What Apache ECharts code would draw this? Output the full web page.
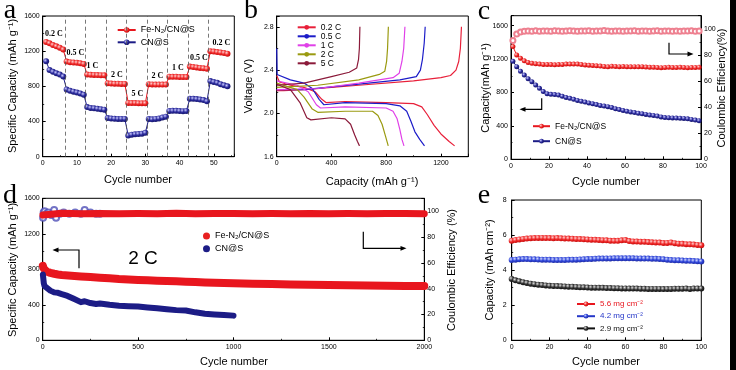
<!DOCTYPE html>
<html><head><meta charset="utf-8">
<script src="https://cdn.jsdelivr.net/npm/echarts@6/dist/echarts.min.js"></script>
<style>html,body{margin:0;padding:0;background:#fff}#c{width:736px;height:370px}</style>
</head><body><div id="c"></div>
<script>
// ---------- Panel a: rate capability ----------
const cyclesA = [1,2,3,4,5,6,7,8,9,10,11,12,13,14,15,16,17,18,19,20,21,22,23,24,25,26,27,28,29,30,31,32,33,34,35,36,37,38,39,40,41,42,43,44,45,46,47,48,49,50,51,52,53,54];
const redA = [1305,1290,1270,1255,1240,1218, 1082,1075,1070,1068,1062,1055, 935,932,930,928,927,925, 835,832,830,830,828,828, 612,610,610,608,608,607, 825,822,820,820,820,820, 910,908,908,906,906,905, 1025,1020,1015,1010,1005,1000, 1200,1195,1190,1185,1180,1172];
const blueA = [1085,985,965,950,935,912, 765,750,740,730,720,705, 565,555,550,545,540,535, 440,435,432,430,430,430, 240,250,255,258,262,272, 430,425,430,435,445,455, 520,522,522,520,518,520, 660,658,655,650,645,630, 860,850,840,825,812,800];
const rateBoundaries = [6.5,12.5,18.5,24.5,30.5,36.5,42.5,48.5];
const rateLabelsA = ['0.2 C','0.5 C','1 C','2 C','5 C','2 C','1 C','0.5 C','0.2 C'];

// ---------- Panel b: charge/discharge profiles ----------
const ratesB = ['0.2 C','0.5 C','1 C','2 C','5 C'];
const dis02 = [[0,2.35],[20,2.29],[100,2.26],[200,2.24],[280,2.2],[330,2.13],[360,2.10],[500,2.11],[800,2.10],[1000,2.09],[1060,2.06],[1100,1.99],[1150,1.89],[1200,1.81],[1260,1.74],[1300,1.70]];
const chg02 = [[0,2.21],[50,2.21],[200,2.22],[600,2.26],[1000,2.30],[1200,2.33],[1270,2.35],[1310,2.40],[1330,2.48],[1342,2.6],[1350,2.8]];
const dis05 = [[0,2.6],[3,2.36],[100,2.31],[200,2.28],[260,2.23],[310,2.13],[345,2.08],[500,2.10],[800,2.09],[900,2.07],[950,2.02],[980,1.93],[1010,1.83],[1045,1.76],[1080,1.70]];
const chg05 = [[0,2.22],[200,2.22],[600,2.27],[900,2.31],[1020,2.34],[1050,2.40],[1065,2.5],[1078,2.65],[1085,2.8]];
const dis1 = [[0,2.30],[150,2.26],[230,2.2],[290,2.08],[320,2.05],[500,2.06],[800,2.05],[850,2.02],[880,1.95],[900,1.85],[915,1.76],[930,1.70]];
const chg1 = [[0,2.22],[300,2.23],[600,2.28],[850,2.33],[895,2.37],[915,2.48],[928,2.6],[937,2.8]];
const dis2 = [[0,2.28],[150,2.22],[200,2.15],[260,2.04],[300,2.01],[500,2.02],[700,2.02],[740,1.98],[770,1.9],[795,1.79],[815,1.70]];
const chg2 = [[0,2.24],[300,2.26],[600,2.31],[750,2.36],[790,2.39],[803,2.48],[810,2.6],[816,2.8]];
const dis5 = [[0,2.27],[100,2.22],[170,2.10],[220,1.96],[250,1.94],[400,1.96],[500,1.95],[540,1.90],[570,1.80],[590,1.74],[605,1.70]];
const chg5 = [[0,2.26],[200,2.28],[400,2.34],[530,2.38],[585,2.42],[598,2.5],[604,2.6],[608,2.8]];

// ---------- Panel c: cycling at 0.2 C ----------
const cyclesC = [1,3,5,7,9,11,13,15,17,19,21,23,25,27,29,31,33,35,37,39,41,43,45,47,49,51,53,55,57,59,61,63,65,67,69,71,73,75,77,79,81,83,85,87,89,91,93,95,97,99];
const redC = [1350,1250,1210,1180,1160,1150,1145,1140,1136,1135, 1135,1132,1135,1136,1140,1140,1140,1140,1135,1130, 1126,1124,1120,1117,1112,1108,1115,1112,1110,1112, 1110,1108,1110,1108,1110,1105,1103,1102,1100,1098, 1100,1102,1100,1100,1102,1100,1098,1100,1100,1102];
const blueC = [1175,1110,1055,1010,965,930,890,850,812,785, 778,775,770,755,740,730,718,705,695,685, 675,665,655,645,638,630,620,605,595,585, 575,568,560,552,545,538,530,525,518,508, 500,498,496,494,492,490,485,478,470,462];
const ceC = [91,96,97.5,98,98.2,98,98.4,98.1,98.3,98.2, 98,98.4,98.2,98.1,98.3,98.5,98.2,98,98.3,98.2, 98.4,98.1,98.2,98.3,98.6,98.2,98,98.3,98.2,98.1, 98.3,98.2,98.4,98.1,98.2,98.3,98,98.2,98.4,98.1, 98.2,98.3,98.1,98.2,98,98.3,98.2,98.4,98.1,98.2];

// ---------- Panel d: long cycling at 2 C ----------
const cyclesDRed = [1,5,10,20,40,60,80,100,150,200,250,300,350,400,450,500,550,600,650,700,750,800,850,900,950,1000,1100,1200,1300,1400,1500,1600,1700,1800,1900,2000];
const redD = [840,810,790,775,760,750,742,735,728,720,712,705,698,690,685,680,676,672,668,664,660,656,652,648,645,642,638,633,630,627,622,620,618,615,613,612];
const cyclesDBlue = [1,3,6,10,20,40,60,80,100,130,160,200,220,250,280,300,350,400,450,500,550,600,650,700,750,800,850,900,950,1000];
const blueD = [740,700,640,610,590,560,540,535,520,500,470,430,440,420,410,415,400,390,385,380,370,360,350,340,335,315,300,292,285,278];
const cyclesDCE = [1,100,200,300,400,500,600,700,800,900,1000,1100,1200,1300,1400,1500,1600,1700,1800,1900,2000];
const ceDRed = [97,98.5,98,98.3,98.1,98.2,98,98.4,98.1,98.2,98.3,98,98.2,98.1,98.3,98,98.2,98.1,98.3,98.2,98];
const cyclesDCEBlue = [2,5,10,20,30,45,60,70,90,110,140,170,200,220,250,280,300];
const ceDBlue = [95,99,100,98,99,97,101,95,98,99,98,99,98,101,99,98,98];

// ---------- Panel e: areal capacity ----------
const cyclesE = [0,2,4,6,8,10,12,14,16,18,20,22,24,26,28,30,32,34,36,38,40,42,44,46,48,50,52,54,56,58,60,62,64,66,68,70,72,74,76,78,80,82,84,86,88,90,92,94,96,98,100];
const loadingsE = ['5.6 mg cm⁻²','4.2 mg cm⁻²','2.9 mg cm⁻²'];
const redE = [5.68,5.72,5.75,5.78,5.80,5.82,5.83,5.84,5.84,5.83,5.83,5.82,5.83,5.82,5.81,5.80,5.79,5.78,5.77,5.76,5.75,5.74,5.73,5.72,5.71,5.70,5.68,5.67,5.67,5.70,5.72,5.66,5.64,5.63,5.62,5.62,5.60,5.59,5.58,5.57,5.55,5.55,5.58,5.54,5.51,5.50,5.48,5.47,5.46,5.44,5.42];
const blueE = [4.58,4.60,4.62,4.63,4.63,4.62,4.62,4.61,4.60,4.60, 4.59,4.58,4.58,4.58,4.58,4.59,4.59,4.60,4.61,4.62, 4.63,4.64,4.65,4.66,4.66,4.67,4.67,4.68,4.68,4.68, 4.68,4.68,4.68,4.67,4.67,4.66,4.66,4.65,4.65,4.64, 4.62,4.60,4.58,4.57,4.56,4.55,4.54,4.53,4.52,4.51, 4.50];
const blackE = [3.50,3.42,3.36,3.31,3.27,3.23,3.20,3.17,3.15,3.13, 3.11,3.10,3.09,3.08,3.07,3.06,3.05,3.04,3.03,3.02, 3.01,3.00,3.00,2.99,2.99,2.98,2.98,2.97,2.97,2.96, 2.96,2.95,2.95,2.95,2.94,2.94,2.93,2.93,2.93,2.93, 2.92,2.93,2.93,2.94,2.94,2.94,2.95,2.93,2.95,2.95, 2.95];

// ---------- helpers ----------
const FONT = 'Arial, "Liberation Sans", sans-serif';
const SERIF = '"Times New Roman", "Liberation Serif", serif';
const pairs = (xs, ys) => xs.map((x, i) => [x, ys[i]]);
function sphere(hi, mid, lo) {
  return {type:'radial', x:0.35, y:0.35, r:0.8, colorStops:[{offset:0,color:hi},{offset:0.45,color:mid},{offset:1,color:lo}]};
}
const RED = '#e8161e', NAVY = '#1c1c86', BLUE = '#2436c8';
const RED_SPH = sphere('#ffd0d0', '#f02a2a', '#b80000');
const NAVY_SPH = sphere('#c8c8ff', '#2a2a9c', '#0e0e58');
const BLUE_SPH = sphere('#d0d8ff', '#3046da', '#1a2390');
const BLACK_SPH = sphere('#e0e0e0', '#333', '#000');

function ax(gridIndex, min, max, interval, o = {}) {
  return {
    type:'value', gridIndex, min, max, interval, position:o.position,
    axisLine:{show:true, onZero:false, lineStyle:{color:'#000', width:1}},
    axisTick:{show:true, inside:true, length:3, lineStyle:{color:'#000', width:1}},
    minorTick:{show:true, splitNumber:2, length:1.5, lineStyle:{color:'#000', width:0.8}},
    splitLine:{show:false}, minorSplitLine:{show:false},
    axisLabel:{fontSize:7, color:'#000', margin:o.margin || 3, fontFamily:FONT,
      showMaxLabel: o.hideMax ? false : true, showMinLabel:true,
      formatter:o.fmt || (v => String(Math.round(v * 100) / 100))}
  };
}
const gridBase = {show:true, borderColor:'#000', borderWidth:1, containLabel:false, outerBoundsMode:'none'};

// ---------- series ----------
const series = [];
// a
series.push({type:'line', name:'Fe-N₂/CN@S', xAxisIndex:0, yAxisIndex:0, data:pairs(cyclesA, redA),
  symbol:'circle', symbolSize:6, itemStyle:{color:RED_SPH}, lineStyle:{color:RED, width:1}, z:3,
  markLine:{silent:true, symbol:['none','none'], label:{show:false},
    lineStyle:{type:[4,3], color:'#555', width:0.8}, data:rateBoundaries.map(v => ({xAxis:v}))}});
series.push({type:'line', name:'CN@S', xAxisIndex:0, yAxisIndex:0, data:pairs(cyclesA, blueA),
  symbol:'circle', symbolSize:6, itemStyle:{color:NAVY_SPH}, lineStyle:{color:NAVY, width:1}, z:3});
// b
const colorsB = ['#e8203a', '#1c1cc8', '#e040e8', '#9a9a10', '#8b1a3a'];
const disB = [dis02, dis05, dis1, dis2, dis5];
const chgB = [chg02, chg05, chg1, chg2, chg5];
ratesB.forEach((r, i) => {
  [disB[i], chgB[i]].forEach(d => series.push({type:'line', name:r, xAxisIndex:1, yAxisIndex:1, data:d,
    symbol:'none', showSymbol:false, lineStyle:{color:colorsB[i], width:1.2}, itemStyle:{color:colorsB[i]}}));
});
// c
series.push({type:'line', name:'Fe-N₂/CN@S\u00a0', xAxisIndex:2, yAxisIndex:2, data:pairs(cyclesC, redC),
  symbol:'circle', symbolSize:5, itemStyle:{color:RED_SPH}, lineStyle:{color:RED, width:1}});
series.push({type:'line', name:'CN@S\u00a0', xAxisIndex:2, yAxisIndex:2, data:pairs(cyclesC, blueC),
  symbol:'circle', symbolSize:5, itemStyle:{color:NAVY_SPH}, lineStyle:{color:NAVY, width:1}});
series.push({type:'line', name:'CE c', xAxisIndex:2, yAxisIndex:3, data:pairs(cyclesC, ceC),
  symbol:'emptyCircle', symbolSize:5, itemStyle:{color:'#ee8090', borderWidth:1}, lineStyle:{color:'#ee8090', width:0.8}});
// d
series.push({type:'line', name:'CE d red', xAxisIndex:3, yAxisIndex:5, data:pairs(cyclesDCE, ceDRed),
  symbol:'none', lineStyle:{color:RED, width:7, cap:'round', join:'round'}, itemStyle:{color:RED}});
series.push({type:'scatter', name:'CE d blue', xAxisIndex:3, yAxisIndex:5, data:pairs(cyclesDCEBlue, ceDBlue),
  symbol:'emptyCircle', symbolSize:6, itemStyle:{color:'#5050b8', borderWidth:0.8}});
series.push({type:'line', name:'Fe-N₂/CN@S\u00a0\u00a0', xAxisIndex:3, yAxisIndex:4, data:pairs(cyclesDRed, redD),
  symbol:'none', lineStyle:{color:RED, width:8, cap:'round', join:'round'}, itemStyle:{color:'#e82020'}});
series.push({type:'line', name:'CN@S\u00a0\u00a0', xAxisIndex:3, yAxisIndex:4, data:pairs(cyclesDBlue, blueD),
  symbol:'none', lineStyle:{color:NAVY, width:6, cap:'round', join:'round'}, itemStyle:{color:NAVY}});
// e
const eSph = [RED_SPH, BLUE_SPH, BLACK_SPH], eCol = [RED, BLUE, '#111'], eData = [redE, blueE, blackE];
loadingsE.forEach((n, i) => series.push({type:'line', name:n, xAxisIndex:4, yAxisIndex:6, data:pairs(cyclesE, eData[i]),
  symbol:'circle', symbolSize:6, itemStyle:{color:eSph[i]}, lineStyle:{color:eCol[i], width:1}}));

// ---------- graphic ----------
const T = (text, x, y, o = {}) => ({type:'text', x, y, rotation:o.rot || 0, z:100,
  style:{text, fontSize:o.size || 11, fontFamily:o.font || FONT, fontWeight:o.weight || 'normal',
    fill:o.color || '#000', align:'center', verticalAlign:'middle'}});
const R = Math.PI / 2;
function arrow(pts, head) {
  return [{type:'polyline', z:100, shape:{points:pts}, style:{stroke:'#000', lineWidth:1.2, fill:null}},
          {type:'polygon', z:100, shape:{points:head}, style:{fill:'#000'}}];
}
const rateLabelPos = [[54,34.3],[75.5,53.3],[92.5,65.7],[117,75],[137.5,94],[157.5,76],[178,67.7],[199,57.7],[221.5,42.7]];
const graphic = [
  {type:'rect', shape:{x:730, y:0, width:6, height:370}, style:{fill:'#000'}, z:100},
  T('a', 10, 11, {size:28, font:SERIF}), T('b', 251, 11, {size:28, font:SERIF}), T('c', 484, 12, {size:28, font:SERIF}),
  T('d', 10, 196, {size:28, font:SERIF}), T('e', 484, 196, {size:28, font:SERIF}),
  T('Specific Capacity (mAh g⁻¹)', 13, 86, {rot:R}), T('Cycle number', 138, 180),
  T('Voltage (V)', 249, 86, {rot:R}), T('Capacity (mAh g⁻¹)', 372, 182),
  T('Capacity(mAh g⁻¹)', 486, 88, {rot:R}), T('Coulombic Efficiency(%)', 722, 88, {rot:R}), T('Cycle number', 606, 182),
  T('Specific Capacity (mAh g⁻¹)', 13, 270, {rot:R}), T('Coulombic Efficiency (%)', 452, 270, {rot:R}), T('Cycle number', 234, 362),
  T('Capacity (mAh cm⁻²)', 490, 270, {rot:R}), T('Cycle number', 606, 362),
  T('2 C', 143, 259, {size:19}),
  ...rateLabelsA.map((t, i) => T(t, rateLabelPos[i][0], rateLabelPos[i][1], {size:8, font:SERIF, weight:'bold'})),
  ...arrow([[541.7,98.3],[541.7,109.3],[524,109.3]], [[519.5,109.3],[525.5,106.9],[525.5,111.7]]),
  ...arrow([[669,42.7],[669,54],[689,54]], [[693.5,54],[687.5,51.6],[687.5,56.4]]),
  ...arrow([[79,268.3],[79,250],[57,250]], [[52.5,250],[58.5,247.6],[58.5,252.4]]),
  ...arrow([[363.3,231.7],[363.3,248.3],[402,248.3]], [[406.5,248.3],[400.5,245.9],[400.5,250.7]])
];

const legBase = {orient:'vertical', padding:0, selectedMode:false, textStyle:{fontFamily:FONT, color:'#000'}};
const option = {
  animation:false,
  backgroundColor:'#fff',
  grid:[
    Object.assign({left:42.7, top:16, width:191.6, height:140.7}, gridBase),
    Object.assign({left:276.7, top:16, width:191.6, height:140.7}, gridBase),
    Object.assign({left:511, top:15.7, width:190, height:143.6}, gridBase),
    Object.assign({left:42.7, top:198.3, width:381.6, height:142}, gridBase),
    Object.assign({left:511.7, top:200, width:189.6, height:140.3}, gridBase)
  ],
  xAxis:[
    ax(0, 0, 56, 10, {hideMax:true}),
    ax(1, 0, 1400, 400, {hideMax:true}),
    ax(2, 0, 100, 20),
    ax(3, 0, 2000, 500),
    ax(4, 0, 100, 20)
  ],
  yAxis:[
    ax(0, 0, 1600, 400),
    ax(1, 1.6, 2.9, 0.4, {hideMax:true, fmt:v => v.toFixed(1)}),
    ax(2, 0, 1720, 400, {hideMax:true}),
    ax(2, 0, 110, 20, {hideMax:true, position:'right'}),
    ax(3, 0, 1600, 400),
    ax(3, 0, 110, 20, {hideMax:true, position:'right'}),
    ax(4, 0, 8, 2, {margin:5})
  ],
  legend:[
    Object.assign({}, legBase, {left:116.7, top:25.5, itemWidth:18, itemHeight:7, itemGap:3.3,
      textStyle:{fontFamily:FONT, color:'#000', fontSize:9}, data:['Fe-N₂/CN@S','CN@S']}),
    Object.assign({}, legBase, {left:296.7, top:22.8, itemWidth:18, itemHeight:6, itemGap:0,
      textStyle:{fontFamily:FONT, color:'#000', fontSize:8.5, lineHeight:7.7}, data:ratesB}),
    Object.assign({}, legBase, {left:532, top:121.7, itemWidth:17, itemHeight:6, itemGap:6,
      textStyle:{fontFamily:FONT, color:'#000', fontSize:8.5}, data:['Fe-N₂/CN@S\u00a0','CN@S\u00a0']}),
    Object.assign({}, legBase, {left:203, top:231.5, icon:'circle', itemWidth:7, itemHeight:7, itemGap:3.7,
      textStyle:{fontFamily:FONT, color:'#000', fontSize:9}, data:['Fe-N₂/CN@S\u00a0\u00a0','CN@S\u00a0\u00a0']}),
    Object.assign({}, legBase, {left:576, top:300, itemWidth:18, itemHeight:6, itemGap:4.2,
      textStyle:{fontFamily:FONT, color:'#000', fontSize:8},
      data:loadingsE.map((n, i) => ({name:n, textStyle:{color:eCol[i]}}))})
  ],
  series,
  graphic
};
const chart = echarts.init(document.getElementById('c'), null, {renderer:'canvas'});
chart.setOption(option);
</script>
</body></html>
